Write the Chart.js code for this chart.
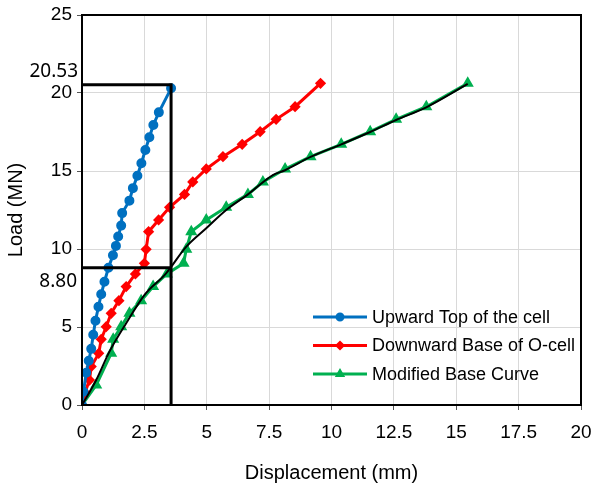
<!DOCTYPE html>
<html>
<head>
<meta charset="utf-8">
<script src="https://cdn.jsdelivr.net/npm/chart.js@4/dist/chart.umd.min.js"></script>
<style>
  html, body { margin: 0; padding: 0; background: #fff; }
  #wrap { width: 592px; height: 489px; position: relative; }
</style>
</head>
<body>
<div id="wrap"><canvas id="c"></canvas></div>
<script>
// Upward movement of the top of the O-cell (displacement mm, load MN)
const upwardX = [0, 0.06, 0.17, 0.27, 0.37, 0.45, 0.54, 0.66, 0.77, 0.90, 1.06, 1.24, 1.36, 1.45, 1.57, 1.61, 1.90, 2.04, 2.22, 2.38, 2.54, 2.70, 2.86, 3.08, 3.57];
const upwardY = [0, 0.85, 2.07, 2.84, 3.60, 4.50, 5.40, 6.30, 7.10, 7.90, 8.80, 9.60, 10.20, 10.80, 11.50, 12.30, 13.10, 13.90, 14.70, 15.50, 16.35, 17.16, 17.95, 18.76, 20.30];

// Downward movement of the O-cell base
const downwardX = [0, 0.12, 0.30, 0.37, 0.67, 0.77, 0.97, 1.17, 1.48, 1.77, 2.14, 2.50, 2.57, 2.67, 3.07, 3.51, 4.11, 4.44, 4.98, 5.65, 6.42, 7.14, 7.78, 8.54, 9.56];
const downwardY = [0, 0.80, 1.60, 2.46, 3.31, 4.21, 5.02, 5.88, 6.69, 7.59, 8.40, 9.08, 9.98, 11.11, 11.86, 12.67, 13.50, 14.30, 15.13, 15.92, 16.71, 17.52, 18.31, 19.12, 20.62];

// Modified base curve
const modifiedX = [0, 0.57, 1.17, 1.25, 1.57, 1.90, 2.37, 2.85, 3.40, 4.07, 4.18, 4.38, 4.98, 5.78, 6.65, 7.25, 8.14, 9.16, 10.39, 11.55, 12.59, 13.80, 15.46];
const modifiedY = [0, 1.28, 3.31, 4.21, 5.02, 5.88, 6.69, 7.59, 8.40, 9.08, 9.98, 11.11, 11.86, 12.67, 13.50, 14.30, 15.13, 15.92, 16.71, 17.52, 18.31, 19.12, 20.62];

// Smooth trend through the modified base curve
const trendX = [0, 0.57, 1.10, 1.77, 2.50, 3.37, 4.18, 4.98, 5.78, 6.65, 7.65, 8.14, 9.16, 10.39, 11.55, 12.59, 13.80, 15.46];
const trendY = [0, 1.60, 3.42, 5.24, 7.05, 8.44, 10.15, 11.33, 12.50, 13.50, 14.74, 15.05, 15.90, 16.71, 17.50, 18.27, 19.08, 20.58];

// Reference cut-off values
const maxLoad = 20.53;
const refLoad = 8.80;
const refDisp = 3.57;

const seriesNames = ['Upward Top of the cell', 'Downward Base of O-cell', 'Modified Base Curve'];
const xTickStep = 2.5, xMax = 20;
const yTickStep = 5, yMax = 25;

const pts = (xs, ys) => xs.map((v, i) => ({ x: v, y: ys[i] }));

const TXT = '"Liberation Sans", Arial, sans-serif';

const decor = {
  id: 'decor',
  afterDraw(chart) {
    const { ctx, chartArea: a, scales: { y } } = chart;
    ctx.save();
    // frame
    ctx.strokeStyle = '#000';
    ctx.lineWidth = 2;
    ctx.strokeRect(a.left, a.top, a.right - a.left, a.bottom - a.top);

    // value labels for the reference loads
    ctx.fillStyle = '#000';
    ctx.font = '19px "Noto Sans", sans-serif';
    ctx.textAlign = 'right';
    ctx.textBaseline = 'middle';
    ctx.fillText(maxLoad.toFixed(2), 78, y.getPixelForValue(maxLoad) - 13);
    ctx.fillText(refLoad.toFixed(2), 77, y.getPixelForValue(refLoad) + 14);

    // legend
    const ds = chart.data.datasets.filter(d => d.inLegend);
    const lx = 313, ly = 317, gap = 28.5;
    ctx.font = '18px ' + TXT;
    ctx.textAlign = 'left';
    ds.forEach((d, i) => {
      const yy = ly + i * gap;
      ctx.strokeStyle = d.borderColor;
      ctx.lineWidth = 3;
      ctx.beginPath();
      ctx.moveTo(lx, yy);
      ctx.lineTo(lx + 54, yy);
      ctx.stroke();
      ctx.fillStyle = d.borderColor;
      Chart.helpers.drawPoint(ctx, { pointStyle: d.pointStyle, radius: 3, rotation: 0, borderWidth: 1 }, lx + 27, yy);
      ctx.fillStyle = '#000';
      ctx.fillText(d.label, lx + 59, yy + 1);
    });
    ctx.restore();
  }
};

new Chart(document.getElementById('c'), {
  type: 'line',
  data: {
    datasets: [
      {
        label: 'ref-max',
        data: [{ x: 0, y: maxLoad }, { x: refDisp, y: maxLoad }, { x: refDisp, y: 0 }],
        borderColor: '#000', borderWidth: 3, pointRadius: 0, tension: 0, order: 0
      },
      {
        label: 'ref-load',
        data: [{ x: 0, y: refLoad }, { x: refDisp, y: refLoad }],
        borderColor: '#000', borderWidth: 3, pointRadius: 0, tension: 0, order: 0
      },
      {
        label: 'trend',
        data: pts(trendX, trendY),
        borderColor: '#000', borderWidth: 2, pointRadius: 0,
        cubicInterpolationMode: 'monotone', order: 1
      },
      {
        label: seriesNames[0], inLegend: true,
        data: pts(upwardX, upwardY),
        borderColor: '#0070C0', backgroundColor: '#0070C0',
        borderWidth: 3, pointStyle: 'circle', pointRadius: 3.5, tension: 0, order: 2
      },
      {
        label: seriesNames[1], inLegend: true,
        data: pts(downwardX, downwardY),
        borderColor: '#FF0000', backgroundColor: '#FF0000',
        borderWidth: 3, pointStyle: 'rectRot', pointRadius: 3.5, tension: 0, order: 3
      },
      {
        label: seriesNames[2], inLegend: true,
        data: pts(modifiedX, modifiedY),
        borderColor: '#00B050', backgroundColor: '#00B050',
        borderWidth: 3, pointStyle: 'triangle', pointRadius: 4, tension: 0, order: 4
      }
    ]
  },
  options: {
    responsive: true,
    maintainAspectRatio: false,
    animation: false,
    layout: { padding: { top: 15, right: 11, left: 0, bottom: 0 } },
    plugins: { legend: { display: false }, tooltip: { enabled: false } },
    scales: {
      x: {
        type: 'linear', min: 0, max: xMax,
        ticks: { stepSize: xTickStep, color: '#000', font: { family: TXT, size: 19 }, padding: 11, maxRotation: 0 },
        grid: { color: '#d9d9d9', lineWidth: 1, tickLength: 5, tickColor: '#555' },
        border: { display: false },
        title: { display: true, text: 'Displacement (mm)', color: '#000', font: { family: TXT, size: 20 }, padding: { top: 12 } },
        afterFit(s) { s.height = 84; s.paddingLeft = 0; s.paddingRight = 0; }
      },
      y: {
        type: 'linear', min: 0, max: yMax,
        ticks: { stepSize: yTickStep, color: '#000', font: { family: TXT, size: 19 }, padding: 5 },
        grid: { color: '#d9d9d9', lineWidth: 1, tickLength: 5, tickColor: '#555' },
        border: { display: false },
        title: { display: true, text: 'Load (MN)', color: '#000', font: { family: TXT, size: 20 }, padding: { bottom: 2 } },
        afterFit(s) { s.width = 82; s.paddingTop = 0; s.paddingBottom = 0; }
      }
    }
  },
  plugins: [decor]
});
</script>
</body>
</html>
